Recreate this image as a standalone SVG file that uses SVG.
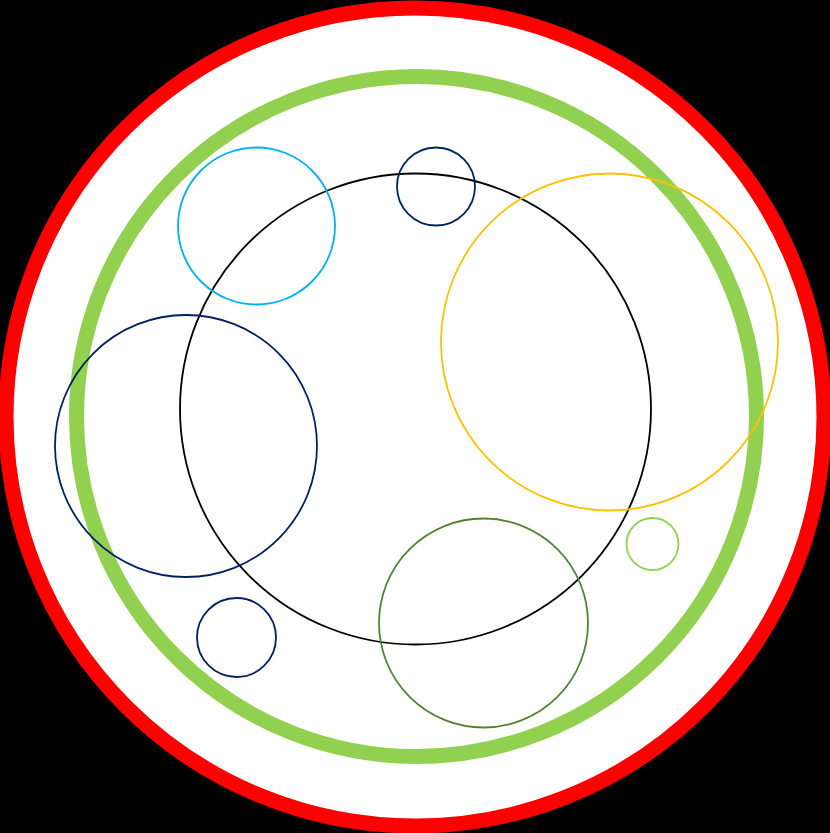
<svg xmlns="http://www.w3.org/2000/svg" width="830" height="833" viewBox="0 0 830 833">
<style>
.thin{fill:none;stroke-width:1.8}
</style>
<rect x="0" y="0" width="830" height="833" fill="#000"/>
<g id="red-ring"><circle cx="415" cy="417" r="409" fill="#fff" stroke="#ff0000" stroke-width="15"/></g>
<g id="green-ring"><circle cx="416.5" cy="416.5" r="340" fill="none" stroke="#92d050" stroke-width="15"/></g>
<g id="black-circle"><circle class="thin" cx="415.5" cy="409" r="235.5" stroke="#000"/></g>
<g id="cyan-circle"><circle class="thin" cx="256.5" cy="226" r="78.5" stroke="#00b0f0"/></g>
<g id="navy-top"><circle class="thin" cx="436" cy="186.5" r="39" stroke="#002060"/></g>
<g id="yellow-circle"><circle class="thin" cx="609.5" cy="342" r="168.5" stroke="#ffc000"/></g>
<g id="navy-large"><circle class="thin" cx="186" cy="446" r="131" stroke="#002060"/></g>
<g id="green-small"><circle class="thin" cx="652.5" cy="544" r="26" stroke="#92d050"/></g>
<g id="olive-circle"><circle class="thin" cx="483.5" cy="623" r="104.5" stroke="#548235"/></g>
<g id="navy-bottom"><circle class="thin" cx="236.5" cy="637.5" r="39.5" stroke="#002060"/></g>
<g id="connectors"></g>
</svg>
